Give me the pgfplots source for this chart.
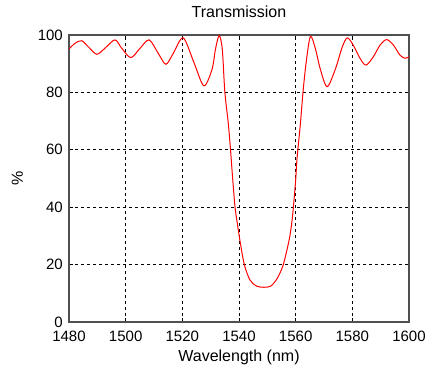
\documentclass[border=0pt]{standalone}
\usepackage{fontspec}
\setmainfont{Liberation Sans}
\usepackage{pgfplots}
\pgfplotsset{compat=1.18}
\definecolor{framegray}{RGB}{80,80,80}
\begin{document}
\fontsize{16bp}{19bp}\selectfont
\begin{tikzpicture}
\useasboundingbox (-69bp,-48bp) rectangle (356bp,322bp);
\begin{axis}[
  scale only axis,
  width=340bp, height=287bp,
  at={(0,0)}, anchor=south west,
  xmin=1480, xmax=1600, ymin=0, ymax=100,
  xtick={1480,1500,...,1600}, ytick={0,20,...,100},
  /pgf/number format/assume math mode=true,
  /pgf/number format/1000 sep={},
  tick align=inside, tick pos=both,
  major tick length=4bp,
  every tick/.style={black, line width=0.6bp},
  axis line style={framegray, line width=1.2bp},
  grid=major,
  major grid style={black, dash pattern=on 3bp off 3bp, line width=1bp},
  every tick label/.append style={font=\fontsize{15bp}{18bp}\selectfont, inner sep=0pt},
  xticklabel style={yshift=-8.7bp},
  yticklabel style={xshift=-6bp},
  title={Transmission},
  title style={at={(axis description cs:0.5,1)}, anchor=base, yshift=11.7bp, inner sep=0pt},
  xlabel={Wavelength (nm)},
  xlabel style={at={(axis description cs:0.5,0)}, anchor=base, yshift=-39bp, inner sep=0pt},
  ylabel={\%},
  ylabel style={at={(axis description cs:-0.1515,0.5)}, anchor=center, inner sep=0pt},
]
\addplot[red, line width=1bp, smooth, tension=0.5] coordinates {
(1480.0,95.1) (1482.1,97.1) (1484.5,98.0) (1486.8,95.9) (1489.8,93.3)
(1492.7,95.4) (1496.2,98.3) (1498.6,95.4) (1501.8,92.1) (1505.1,95.4)
(1508.3,98.3) (1511.5,93.6) (1514.2,89.8) (1516.8,93.6) (1520.3,99.0)
(1524.1,90.4) (1527.6,82.3) (1530.5,88.1) (1531.7,95.1) (1533.0,99.8)
(1534.1,95.1) (1535.0,80.2) (1536.2,69.4) (1537.0,60.1) (1537.8,49.5)
(1538.6,40.0) (1539.4,34.4) (1540.4,28.0) (1541.9,19.9) (1543.9,14.6)
(1546.2,12.5) (1548.8,12.1) (1551.2,12.5) (1553.5,15.2) (1555.6,19.9)
(1557.7,28.6) (1558.6,34.4) (1559.2,40.0) (1560.0,49.5) (1560.5,57.2)
(1561.7,69.4) (1562.6,80.2) (1563.7,90.4) (1565.2,99.5) (1567.0,95.1)
(1568.7,88.1) (1571.1,82.0) (1574.0,88.1) (1576.4,95.7) (1578.2,99.0)
(1580.3,96.5) (1582.7,91.9) (1584.8,89.5) (1587.4,92.4) (1589.8,96.5)
(1592.1,98.4) (1594.5,96.5) (1596.8,93.0) (1598.6,91.9) (1600.0,92.4)
};
\end{axis}
\end{tikzpicture}
\end{document}
